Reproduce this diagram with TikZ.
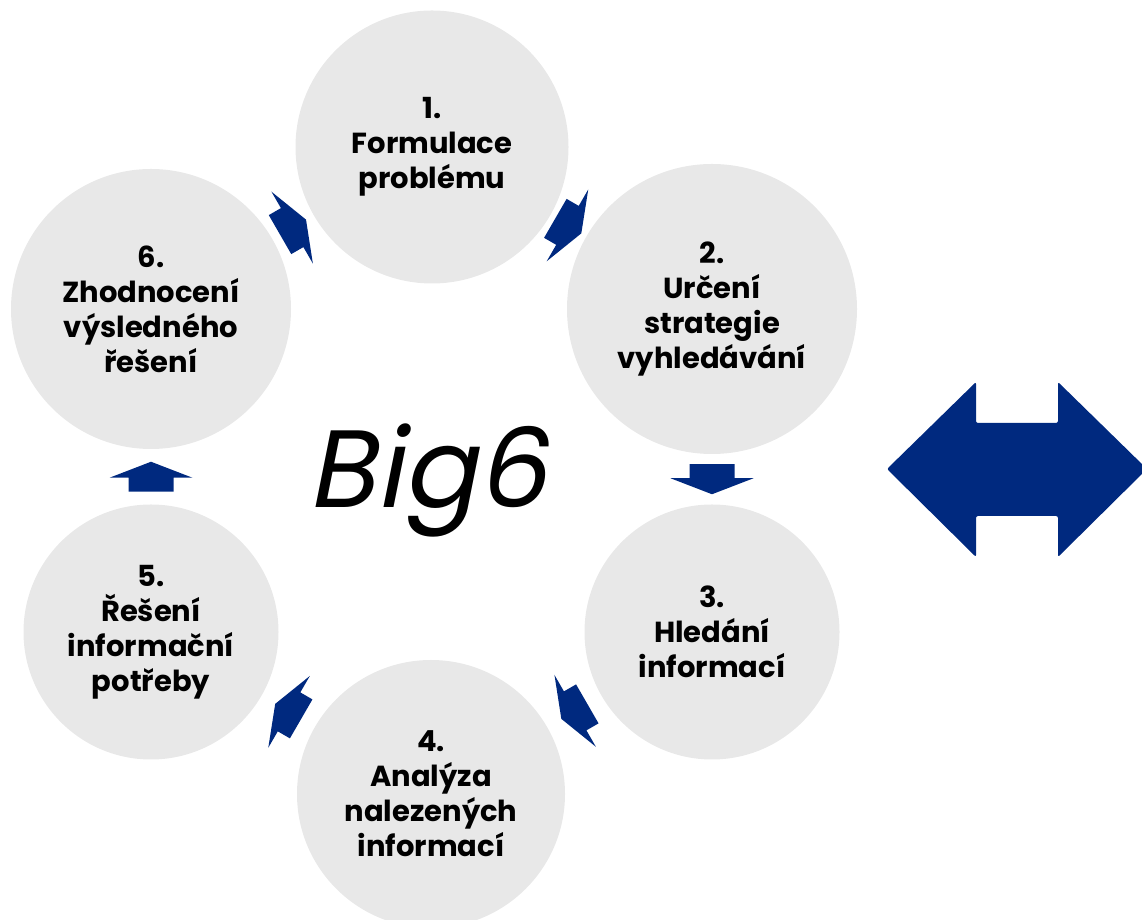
\documentclass[tikz,border=0pt]{standalone}
\usepackage{fontspec}
\setmainfont{Poppins}
\newfontfamily\bigsixfont{Poppins}[FakeSlant=0.2]
\definecolor{cyclegray}{RGB}{232,232,232}
\definecolor{cycleblue}{RGB}{0,41,127}

\begin{document}
\begin{tikzpicture}[x=1pt,y=1pt]
	\tikzset{
		stage/.style = {shape=circle, fill=cyclegray, inner sep=0pt, align=center, font=\bfseries\fontsize{29}{35}\selectfont},
		cyclearrow/.pic = {\fill[cycleblue] (-15,-22.5) -- (-1,-22.5) -- (-1,-41.5) -- (15,0) -- (-1,41.5) -- (-1,22.5) -- (-15,22.5) -- cycle;}
		}
	\useasboundingbox (0,0) rectangle (1142,920);
	\clip (0,0) rectangle (1142,920);

	\path 	(432,773) node [name=stage1, stage, minimum size=273pt] {1.\\Formulace\\problému}
			(712,611) node [name=stage2, stage, minimum size=290pt] {2.\\Určení\\strategie\\vyhledávání}
			(712,288) node [name=stage3, stage, minimum size=255pt] {3.\\Hledání\\informací}
			(431,126) node [name=stage4, stage, minimum size=268pt] {4.\\Analýza\\nalezených\\informací}
			(151,288) node [name=stage5, stage, minimum size=255pt] {5.\\Řešení\\informační\\potřeby}
			(151,611) node [name=stage6, stage, minimum size=280pt] {6.\\Zhodnocení\\výsledného\\řešení};

	% arrows between the stages
	\path (stage1) -- (stage2) pic [midway, sloped, allow upside down] {cyclearrow};
	\path (stage2) -- (stage3) pic [midway, sloped, allow upside down] {cyclearrow};
	\path (stage3) -- (stage4) pic [midway, sloped, allow upside down] {cyclearrow};
	\path (stage4) -- (stage5) pic [midway, sloped, allow upside down] {cyclearrow};
	\path (stage5) -- (stage6) pic [midway, sloped, allow upside down] {cyclearrow};
	\path (stage6) -- (stage1) pic [midway, sloped, allow upside down] {cyclearrow};

	\path (427,412) node [name=title, anchor=base, font=\bigsixfont\fontsize{110}{110}\selectfont] {Big6};

	\fill[cycleblue, rounded corners=2pt] (887,451) -- (976,538) -- (976,497) -- (1058,497) -- (1058,538) -- (1147,451) -- (1058,363) -- (1058,404) -- (976,404) -- (976,363) -- cycle;
\end{tikzpicture}
\end{document}
